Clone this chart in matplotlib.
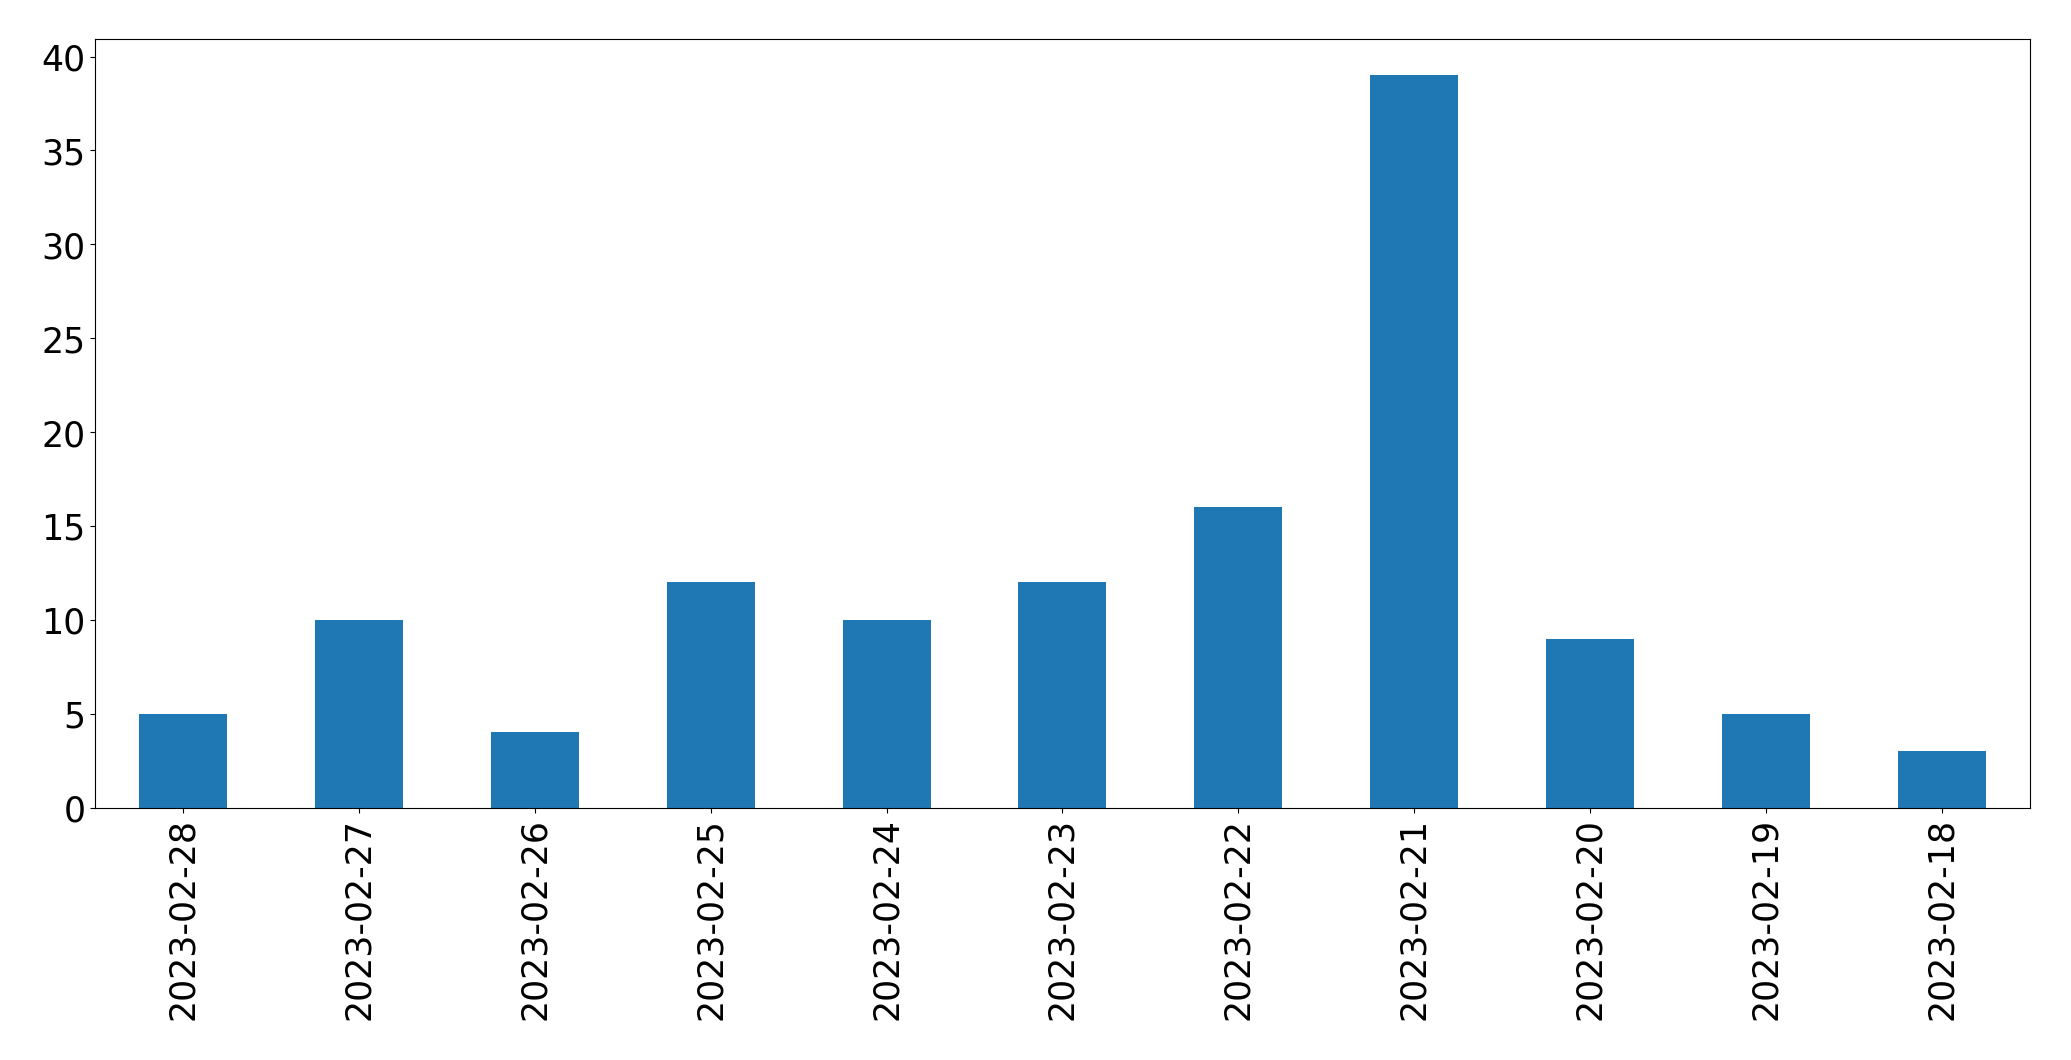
import matplotlib
matplotlib.use("Agg")
import matplotlib.pyplot as plt
import numpy as np

dates = ["2023-02-28", "2023-02-27", "2023-02-26", "2023-02-25", "2023-02-24",
         "2023-02-23", "2023-02-22", "2023-02-21", "2023-02-20", "2023-02-19",
         "2023-02-18"]
counts = [5, 10, 4, 12, 10, 12, 16, 39, 9, 5, 3]


def main():
    fig = plt.figure(figsize=(20.71, 10.605), dpi=100)
    ax = fig.add_axes([0.046, 0.238, 0.934, 0.725])
    x = np.arange(len(dates))
    ax.bar(x, counts, width=0.5, color="#1f77b4")
    ax.set_xlim(-0.5, len(dates) - 0.5)
    ax.set_ylim(0, max(counts) * 1.05)
    ax.set_xticks(x)
    ax.set_xticklabels(dates, rotation=90, fontsize=25)
    ax.tick_params(axis="y", labelsize=25)
    fig.savefig("out.png", dpi=100)


if __name__ == "__main__":
    main()
